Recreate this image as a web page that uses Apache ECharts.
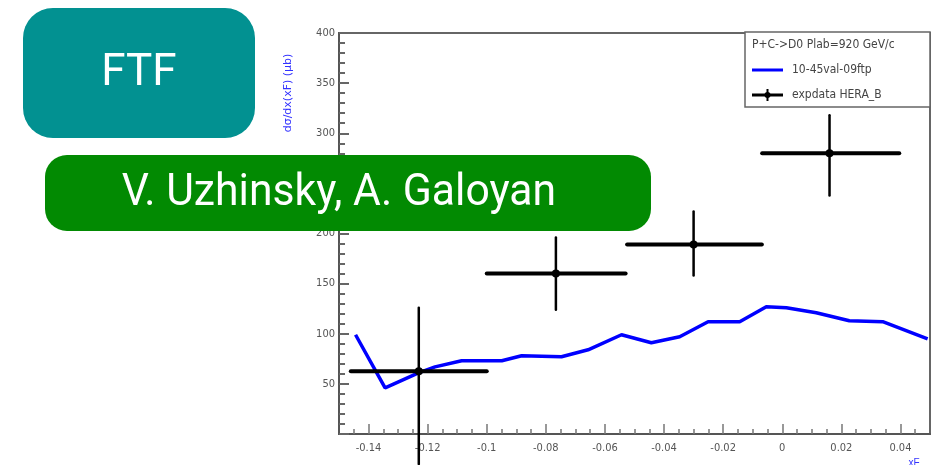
<!DOCTYPE html>
<html><head><meta charset="utf-8">
<script src="https://cdn.jsdelivr.net/npm/echarts@6/dist/echarts.min.js"></script>
<style>
html,body{margin:0;padding:0;background:#fff;}
#wrap{position:relative;width:943px;height:465px;overflow:hidden;background:#fff;}
#plot,#tags{position:absolute;left:0;top:0;width:943px;height:465px;}
#plot{filter:blur(0.7px);}
</style></head><body>
<div id="wrap"><div id="plot"></div><div id="tags"></div></div>
<script>
// Model curve (Geant4 FTF), x_F vs cross section
const modelX = [-0.1444,-0.1344,-0.1231,-0.1175,-0.1085,-0.0949,-0.0882,-0.0747,-0.0657,-0.0544,-0.0443,-0.0347,-0.0251,-0.0144,-0.0054,0.0014,0.0115,0.0227,0.0340,0.0492];
const modelY = [99,46,61,67,73,73,78,77,84,99,91,97,112,112,127,126,121,113,112,95];

// HERA-B points with bin widths and errors
const dataX     = [-0.123,-0.0766,-0.030,0.016];
const dataXLow  = [-0.146,-0.100,-0.0525,-0.0068];
const dataXHigh = [-0.100,-0.053,-0.0069,0.0396];
const dataY     = [62.5,160,189,280];
const dataYLow  = [-30,124,158,238];
const dataYHigh = [126,196,222,318];

const xTickLabels = [-0.14,-0.12,-0.1,-0.08,-0.06,-0.04,-0.02,0,0.02,0.04];
const yTickLabels = [50,100,150,200,250,300,350,400];

const legendHeader = 'P+C->D0 Plab=920 GeV/c';
const legendModel = '10-45val-09ftp';
const legendData = 'expdata HERA_B';
const yTitle = 'dσ/dx(xF) (μb)';
const xTitle = 'xF';

const xMinor = [];
for (let k = -29; k <= 9; k++) xMinor.push(+(k * 0.005).toFixed(3));

const fmtX = v => {
  if (Math.abs(v) < 1e-9) return '0';
  return (+v.toFixed(3)).toString();
};

const plot = echarts.init(document.getElementById('plot'), null, {renderer: 'canvas'});
const lblFont = {color: '#555', fontSize: 11, fontFamily: 'Liberation Sans Narrow, DejaVu Sans Condensed, Liberation Sans, sans-serif'};
const legFont = '12px "Liberation Sans Narrow", "DejaVu Sans Condensed", sans-serif';

const grid = {left: 339, right: 13, top: 33, bottom: 31, show: true, borderColor: '#666', borderWidth: 2, backgroundColor: '#fff'};

plot.setOption({
  animation: false,
  backgroundColor: '#fff',
  grid: grid,
  xAxis: [{
    type: 'value', min: -0.15, max: 0.05, gridIndex: 0,
    axisLine: {show: true, onZero: false, lineStyle: {color: '#555', width: 2}},
    splitLine: {show: false},
    axisTick: {show: true, inside: true, length: 10, customValues: xTickLabels, lineStyle: {color: '#777', width: 1.5}},
    axisLabel: Object.assign({show: true, margin: 9, customValues: xTickLabels, formatter: fmtX}, lblFont)
  }, {
    type: 'value', min: -0.15, max: 0.05, gridIndex: 0, position: 'bottom',
    axisLine: {show: false},
    splitLine: {show: false},
    axisTick: {show: true, inside: true, length: 5, customValues: xMinor, lineStyle: {color: '#777', width: 1.5}},
    axisLabel: {show: false}
  }],
  yAxis: [{
    type: 'value', min: 0, max: 400, interval: 50,
    axisLine: {show: true, onZero: false, lineStyle: {color: '#555', width: 2}},
    splitLine: {show: false},
    axisTick: {show: true, inside: true, length: 10, lineStyle: {color: '#666', width: 2}},
    minorTick: {show: true, splitNumber: 5, length: 6, lineStyle: {color: '#666', width: 2}},
    axisLabel: Object.assign({show: true, margin: 4, customValues: yTickLabels}, lblFont)
  }],
  graphic: [
    // legend box
    {type: 'rect', shape: {x: 745, y: 32, width: 185, height: 75}, style: {fill: '#fff', stroke: '#666', lineWidth: 1.5}, z: 20},
    {type: 'text', x: 752, y: 45, style: {text: legendHeader, fill: '#444', font: legFont, verticalAlign: 'middle'}, z: 21},
    {type: 'line', shape: {x1: 752, y1: 70, x2: 783, y2: 70}, style: {stroke: '#0000ff', lineWidth: 3}, z: 21},
    {type: 'text', x: 792, y: 70, style: {text: legendModel, fill: '#444', font: legFont, verticalAlign: 'middle'}, z: 21},
    {type: 'line', shape: {x1: 752, y1: 95, x2: 783, y2: 95}, style: {stroke: '#000', lineWidth: 3}, z: 21},
    {type: 'line', shape: {x1: 767.5, y1: 89, x2: 767.5, y2: 101}, style: {stroke: '#000', lineWidth: 2}, z: 21},
    {type: 'circle', shape: {cx: 767.5, cy: 95, r: 3}, style: {fill: '#000'}, z: 21},
    {type: 'text', x: 792, y: 95, style: {text: legendData, fill: '#444', font: legFont, verticalAlign: 'middle'}, z: 21},
    // axis titles
    {type: 'text', x: 288, y: 93, rotation: Math.PI / 2, style: {text: yTitle, fill: '#3333ff', font: '11px "DejaVu Sans", sans-serif', align: 'center', verticalAlign: 'middle'}, z: 21},
    {type: 'text', x: 914, y: 463, style: {text: xTitle, fill: '#3333ff', font: '10px "Liberation Sans Narrow", sans-serif', align: 'center', verticalAlign: 'middle'}, z: 21}
  ],
  series: [{
    type: 'line',
    data: modelX.map((x, i) => [x, modelY[i]]),
    showSymbol: false,
    lineStyle: {color: '#0000ff', width: 3.5},
    z: 5
  }, {
    type: 'custom',
    clip: false,
    data: dataX.map((x, i) => [x, dataY[i], dataXLow[i], dataXHigh[i], dataYLow[i], dataYHigh[i]]),
    renderItem: function (params, api) {
      const c = api.coord([api.value(0), api.value(1)]);
      const l = api.coord([api.value(2), api.value(1)]);
      const r = api.coord([api.value(3), api.value(1)]);
      const lo = api.coord([api.value(0), api.value(4)]);
      const hi = api.coord([api.value(0), api.value(5)]);
      return {
        type: 'group',
        children: [
          {type: 'line', shape: {x1: l[0], y1: l[1], x2: r[0], y2: r[1]}, style: {stroke: '#000', lineWidth: 4, lineCap: 'round'}},
          {type: 'line', shape: {x1: lo[0], y1: lo[1], x2: hi[0], y2: hi[1]}, style: {stroke: '#000', lineWidth: 2.5, lineCap: 'round'}},
          {type: 'circle', shape: {cx: c[0], cy: c[1], r: 4}, style: {fill: '#000'}}
        ]
      };
    },
    z: 10
  }]
});

// Title tags drawn above the figure
const tags = echarts.init(document.getElementById('tags'), null, {renderer: 'canvas'});
tags.setOption({
  animation: false,
  graphic: [
    {type: 'rect', shape: {x: 23, y: 8, width: 232, height: 130, r: 30}, style: {fill: '#029191'}},
    {type: 'text', x: 139, y: 74, style: {text: 'FTF', fill: '#fff', font: '44px Roboto, sans-serif', align: 'center', verticalAlign: 'middle'}},
    {type: 'rect', shape: {x: 45, y: 155, width: 606, height: 76, r: 22}, style: {fill: '#028a02'}},
    {type: 'text', x: 339, y: 194, scaleX: 0.97, originX: 0, originY: 0, style: {text: 'V. Uzhinsky, A. Galoyan', fill: '#fff', font: '44px Roboto, sans-serif', align: 'center', verticalAlign: 'middle'}}
  ]
});
</script>
</body></html>
